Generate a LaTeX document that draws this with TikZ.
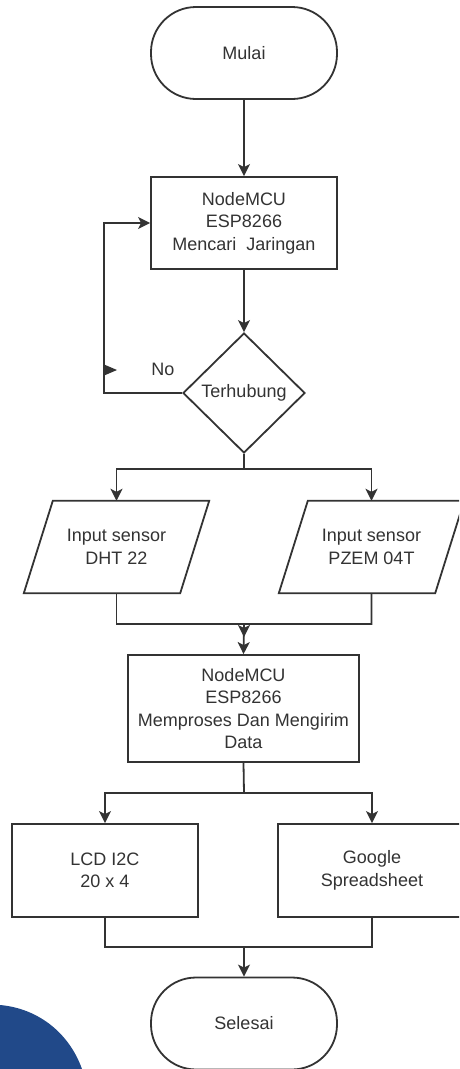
\documentclass[tikz,border=0pt]{standalone}
\usepackage{fontspec}
\setmainfont{Liberation Sans}
\usetikzlibrary{shapes.geometric,arrows.meta}
\definecolor{ln}{HTML}{333333}
\definecolor{tx}{HTML}{333333}
\definecolor{blu}{RGB}{33,73,137}
\begin{document}
\begin{tikzpicture}[x=1pt,y=-1pt,
  every node/.style={font=\fontsize{18}{22.5}\selectfont, text=tx, align=center},
  base/.style={draw=ln, line width=1.8pt, inner sep=0pt, fill=white},
  term/.style={base, rounded corners=45pt, minimum width=186pt, minimum height=92pt},
  proc/.style={base, rectangle, minimum height=92pt},
  dec/.style={base, diamond, minimum width=122pt, minimum height=120pt},
  iotext/.style={inner sep=0pt, minimum width=156pt, minimum height=92pt},
  conn/.style={draw=ln, line width=1.8pt},
  arr/.style={conn, -{Stealth[length=12pt,width=12pt,inset=3pt]}},
]
\useasboundingbox (0,0) rectangle (459,1069);
\clip (0,0) rectangle (459,1069);
\fill[blu] (0,1005) .. controls (35,1008) and (68,1030) .. (82,1069) -- (0,1069) -- cycle;

\node[term] (mulai) at (244,53) {Mulai};
\node[proc, minimum width=186pt] (b1) at (244,223) {NodeMCU\\ESP8266\\Mencari\ \ Jaringan};
\node[dec] (dia) at (244,393) {Terhubung};
\node[iotext] (p1) at (116.5,547) {};
\node[iotext] (p2) at (371.5,547) {};
\draw[base] ([xshift=-14.5pt]p1.south west) -- ([xshift=14.5pt]p1.north west)
   -- ([xshift=14.5pt]p1.north east) -- ([xshift=-14.5pt]p1.south east) -- cycle;
\draw[base] ([xshift=-14.5pt]p2.south west) -- ([xshift=14.5pt]p2.north west)
   -- ([xshift=14.5pt]p2.north east) -- ([xshift=-14.5pt]p2.south east) -- cycle;
\node[iotext] (p1t) at (p1.center) {Input sensor\\DHT 22};
\node[iotext] (p2t) at (p2.center) {Input sensor\\PZEM 04T};
\node[proc, minimum width=231pt, minimum height=107pt] (b2) at (243.5,708.5) {NodeMCU\\ESP8266\\Memproses Dan Mengirim\\Data};
\node[proc, minimum width=186pt, minimum height=93pt] (lcd) at (105,870.5) {LCD I2C\\20 x 4};
\node[proc, minimum width=188pt, minimum height=93pt] (gs) at (372,870.5) {Google\\Spreadsheet};
\node[term] (sel) at (244,1023.5) {Selesai};
\node (no) at (163,369) {No};

\coordinate (s1) at (244,469);
\coordinate (j1) at (244,624);
\coordinate (j1b) at (244,637);
\coordinate (s2) at (244,793);
\coordinate (j2) at (244,947);

\draw[arr] (mulai.south) -- (b1.north);
\draw[arr] (b1.south) -- (dia.north);
\draw[arr] (dia.west) -- ++(-78,0) |- (b1.west);
\fill[ln] (103,364) -- (117,370) -- (103,376) -- cycle;

\draw[conn] (dia.south) -- (s1);
\draw[arr] (s1) -| (p1.north);
\draw[arr] (s1) -| (p2.north);

\draw[arr] (p1.south) |- (j1) -- (j1b);
\draw[arr] (p2.south) |- (j1) -- (b2.north);

\draw[conn] (b2.south) -- (s2);
\draw[arr] (s2) -| (lcd.north);
\draw[arr] (s2) -| (gs.north);

\draw[conn] (lcd.south) |- (j2);
\draw[conn] (gs.south) |- (j2);
\draw[arr] (j2) -- (sel.north);
\end{tikzpicture}
\end{document}
